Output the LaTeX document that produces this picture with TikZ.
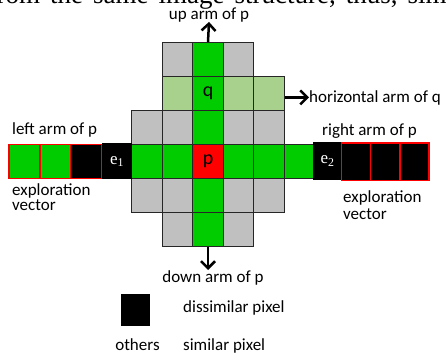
\documentclass[tikz,border=0pt]{standalone}
\usepackage{fontspec}
\setmainfont{Carlito}
\newfontfamily\zeitungsfont{Liberation Serif}
\usetikzlibrary{arrows.meta}
\definecolor{gruen}{RGB}{0,204,0}
\definecolor{hellgruen}{RGB}{169,209,142}
\definecolor{grau}{RGB}{192,192,192}
\definecolor{rot}{RGB}{255,0,0}

\begin{document}
\begin{tikzpicture}[x=1pt, y=-1pt, >={Straight Barb[length=7pt,width=14pt]},
    zelle/.style={draw=black!85, line width=1.2pt, minimum width=30.5pt, minimum height=33.9pt, inner sep=0pt, font=\fontsize{20}{20}\selectfont},
    grauzelle/.style={zelle, fill=grau},
    gruenzelle/.style={zelle, fill=gruen},
    hellzelle/.style={zelle, fill=hellgruen},
    rotzelle/.style={zelle, fill=rot},
    endzelle/.style={fill=black, text=white, inner sep=0pt, font=\zeitungsfont\fontsize{17}{17}\selectfont},
    vekzelle/.style={draw=rot, line width=1.2pt, inner sep=0pt},
    beschr/.style={inner sep=0pt, font=\fontsize{17}{15}\selectfont},
    pfeil/.style={->, line width=2.5pt}]
\useasboundingbox (0,0) rectangle (446,356);
% abgeschnittene Zeile oben:
\begin{scope}
\clip (0,0) rectangle (446,356);
\node[anchor=base west, inner sep=0pt, font=\zeitungsfont\fontsize{27}{27}\selectfont] (kopf) at (-12.5,3.5) {\spaceskip=10pt from the same image structure, thus, similar};
\end{scope}
% Zeile 0:
\node[grauzelle] (z01) at (177.5,59.7) {};
\node[gruenzelle] (z02) at (208,59.7) {};
\node[grauzelle] (z03) at (238.5,59.7) {};
% Zeile 1 (Arm von q):
\node[hellzelle] (z11) at (177.5,93.6) {};
\node[gruenzelle] (q) at (208,93.6) {q};
\node[hellzelle] (z13) at (238.5,93.6) {};
\node[hellzelle] (z14) at (269,93.6) {};
% Zeile 2:
\node[grauzelle] (z20) at (147,127.5) {};
\node[grauzelle] (z21) at (177.5,127.5) {};
\node[gruenzelle] (z22) at (208,127.5) {};
\node[grauzelle] (z23) at (238.5,127.5) {};
\node[grauzelle] (z24) at (269,127.5) {};
% Zeile 3 (Arm von p):
\node[gruenzelle] (z30) at (147,161.4) {};
\node[gruenzelle] (z31) at (177.5,161.4) {};
\node[rotzelle] (p) at (208,161.4) {p};
\node[gruenzelle] (z33) at (238.5,161.4) {};
\node[gruenzelle] (z34) at (269,161.4) {};
\node[gruenzelle] (z35) at (299.5,161.4) {};
% Zeile 4:
\node[grauzelle] (z40) at (147,195.3) {};
\node[grauzelle] (z41) at (177.5,195.3) {};
\node[gruenzelle] (z42) at (208,195.3) {};
\node[grauzelle] (z43) at (238.5,195.3) {};
\node[grauzelle] (z44) at (269,195.3) {};
% Zeile 5:
\node[grauzelle] (z51) at (177.5,229.2) {};
\node[gruenzelle] (z52) at (208,229.2) {};
\node[grauzelle] (z53) at (238.5,229.2) {};
% Enden e1, e2:
\node[endzelle, minimum width=29.4pt, minimum height=36pt] (e1) at (117,161.3) {e\textsubscript{1}};
\node[endzelle, minimum width=28.4pt, minimum height=37.7pt] (e2) at (327.5,161.2) {e\textsubscript{2}};
% linker Vektor:
\node[vekzelle, fill=gruen, minimum width=30.9pt, minimum height=34pt] (l1) at (24.5,161.3) {};
\node[vekzelle, fill=gruen, minimum width=30.9pt, minimum height=34pt] (l2) at (55.4,161.3) {};
\node[vekzelle, fill=black, minimum width=30.9pt, minimum height=34pt] (l3) at (86.3,161.3) {};
% rechter Vektor:
\node[vekzelle, fill=black, minimum width=29.1pt, minimum height=37.7pt] (r1) at (356.3,161.9) {};
\node[vekzelle, fill=black, minimum width=29.1pt, minimum height=37.7pt] (r2) at (385.4,161.9) {};
\node[vekzelle, fill=black, minimum width=29.1pt, minimum height=37.7pt] (r3) at (414.5,161.9) {};
% Beschriftungen:
\node[beschr, anchor=base] (oben) at (209,19) {up arm of p};
\node[beschr, anchor=base west] (hq) at (309,102) {horizontal arm of q};
\node[beschr, anchor=base] (unten) at (213,282) {down arm of p};
\node[beschr, anchor=base west] (larm) at (12,134) {left arm of p};
\node[beschr, anchor=base west] (rarm) at (322,135) {right arm of p};
\node[beschr, anchor=base west, align=left] (lvek) at (12,210) {exploration\\vector};
\node[beschr, anchor=base west, align=left, font=\fontsize{17}{17.5}\selectfont] (rvek) at (343,219.5) {exploration\\vector};
% Pfeile:
\draw[pfeil] (z02.north) -- (oben.south);
\draw[pfeil] (z14.east |- hq.west) -- (hq.west);
\draw[pfeil] (z52.south) -- (z52.south |- unten.north);
% Legende:
\node[fill=black, minimum width=29.3pt, minimum height=31.7pt, inner sep=0pt] (leg) at (135.3,310) {};
\node[beschr, anchor=base west] (dis) at (183,312) {dissimilar pixel};
\node[beschr, anchor=base] (andere) at (137.5,350) {others};
\node[beschr, anchor=base west] (sim) at (183,350) {similar pixel};
\end{tikzpicture}
\end{document}
